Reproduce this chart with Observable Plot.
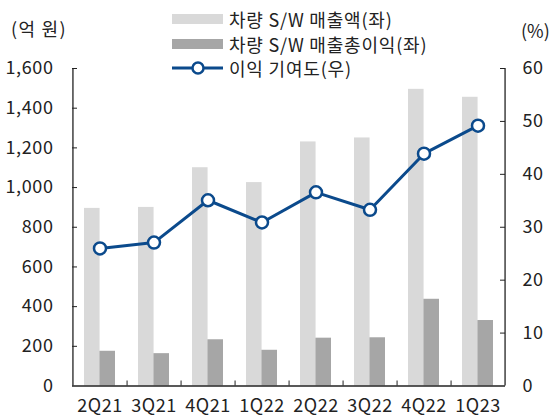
<!DOCTYPE html>
<html>
<head>
<meta charset="utf-8">
<script src="https://cdn.jsdelivr.net/npm/d3@7"></script>
<script src="https://cdn.jsdelivr.net/npm/@observablehq/plot@0.6"></script>
<style>
  html, body { margin: 0; padding: 0; background: #fff; }
  body { width: 553px; height: 419px; overflow: hidden; font-family: "Noto Sans CJK KR", "Noto Sans", sans-serif; }
  #wrap { position: relative; width: 553px; height: 419px; }
  .lbl { position: absolute; font-size: 18px; color: #222; white-space: nowrap; line-height: 1; }
  .leg { position: absolute; left: 172px; height: 20px; display: flex; align-items: center; font-size: 18px; letter-spacing: 0.8px; color: #222; white-space: nowrap; line-height: 1; }
  .sw { width: 51px; height: 10px; margin-right: 6px; }
</style>
</head>
<body>
<div id="wrap">
  <div class="lbl" style="left:11px; top:19px; letter-spacing:1.3px;">(억 원)</div>
  <div class="lbl" style="left:521px; top:21px;">(%)</div>
  <div class="leg" style="top:9px;"><div class="sw" style="background:#d9d9d9"></div><span>차량 S/W 매출액(좌)</span></div>
  <div class="leg" style="top:34px;"><div class="sw" style="background:#a6a6a6"></div><span>차량 S/W 매출총이익(좌)</span></div>
  <div class="leg" style="top:58px;"><svg width="51" height="16" style="margin-right:6px"><line x1="0" y1="8" x2="51" y2="8" stroke="#0b4a8c" stroke-width="3"/><circle cx="26" cy="8" r="5.5" fill="#fff" stroke="#0b4a8c" stroke-width="2.5"/></svg><span>이익 기여도(우)</span></div>
  <div id="chart"></div>
</div>
<script>
const quarters = ["2Q21","3Q21","4Q21","1Q22","2Q22","3Q22","4Q22","1Q23"];
const revenue = [895, 900, 1100, 1025, 1230, 1250, 1495, 1455];
const grossProfit = [175, 163, 233, 180, 241, 243, 437, 330];
const contribution = [26.0, 27.1, 35.1, 30.9, 36.6, 33.3, 43.9, 49.2];
const leftTicks = [0, 200, 400, 600, 800, 1000, 1200, 1400, 1600];
const rightTicks = [0, 10, 20, 30, 40, 50, 60];

const W = 553, H = 419;
const mL = 72, mR = 48, mT = 68, mB = 33.5;
const frameW = W - mL - mR, frameH = H - mT - mB;
const k = 1600 / 60;
const step = frameW / quarters.length;
const paddingInner = 0.43;
const bw = step * (1 - paddingInner);

const data = quarters.map((q, i) => ({q, rev: revenue[i], gp: grossProfit[i], pct: contribution[i]}));
const blue = "#0b4a8c";
const font = "Noto Sans CJK KR";

const chart = Plot.plot({
  width: W, height: H,
  marginLeft: mL, marginRight: mR, marginTop: mT, marginBottom: mB,
  style: {fontFamily: font, fontSize: "18px", letterSpacing: "0.6px", color: "#222", background: "transparent"},
  x: {domain: quarters, paddingInner, paddingOuter: paddingInner / 2, label: null},
  y: {domain: [0, 1600], label: null},
  marks: [
    Plot.barY(data, {x: "q", y: "rev", fill: "#d9d9d9", insetRight: bw / 2}),
    Plot.barY(data, {x: "q", y: "gp", fill: "#a6a6a6", insetLeft: bw / 2}),
    // axis lines
    Plot.ruleY([0], {stroke: "#222", strokeWidth: 1.3}),
    Plot.ruleX([quarters[0]], {dx: -step / 2, stroke: "#222", strokeWidth: 1.3}),
    Plot.ruleX([quarters[quarters.length - 1]], {dx: step / 2, stroke: "#222", strokeWidth: 1.3}),
    // inward ticks
    Plot.tickY(leftTicks.slice(1), {y: d => d, insetRight: frameW - 5, stroke: "#222"}),
    Plot.tickY(rightTicks.slice(1), {y: d => d * k, insetLeft: frameW - 5, stroke: "#222"}),
    Plot.tickX(quarters.slice(0, -1), {x: d => d, dx: step / 2, insetTop: frameH - 5, stroke: "#222"}),
    // axes labels
    Plot.axisY(leftTicks, {anchor: "left", tickSize: 0, tickPadding: 19, tickFormat: d3.format(","), label: null}),
    Plot.axisY(rightTicks.map(d => d * k), {anchor: "right", tickSize: 0, tickPadding: 17, tickFormat: d => Math.round(d / k), label: null}),
    Plot.axisX({tickSize: 0, tickPadding: 13, label: null}),
    // line
    Plot.lineY(data, {x: "q", y: d => d.pct * k, stroke: blue, strokeWidth: 3}),
    Plot.dot(data, {x: "q", y: d => d.pct * k, r: 6, fill: "#fff", stroke: blue, strokeWidth: 2.5})
  ]
});
chart.style.position = "absolute";
chart.style.left = "0px";
chart.style.top = "0px";
document.getElementById("chart").appendChild(chart);
</script>
</body>
</html>
